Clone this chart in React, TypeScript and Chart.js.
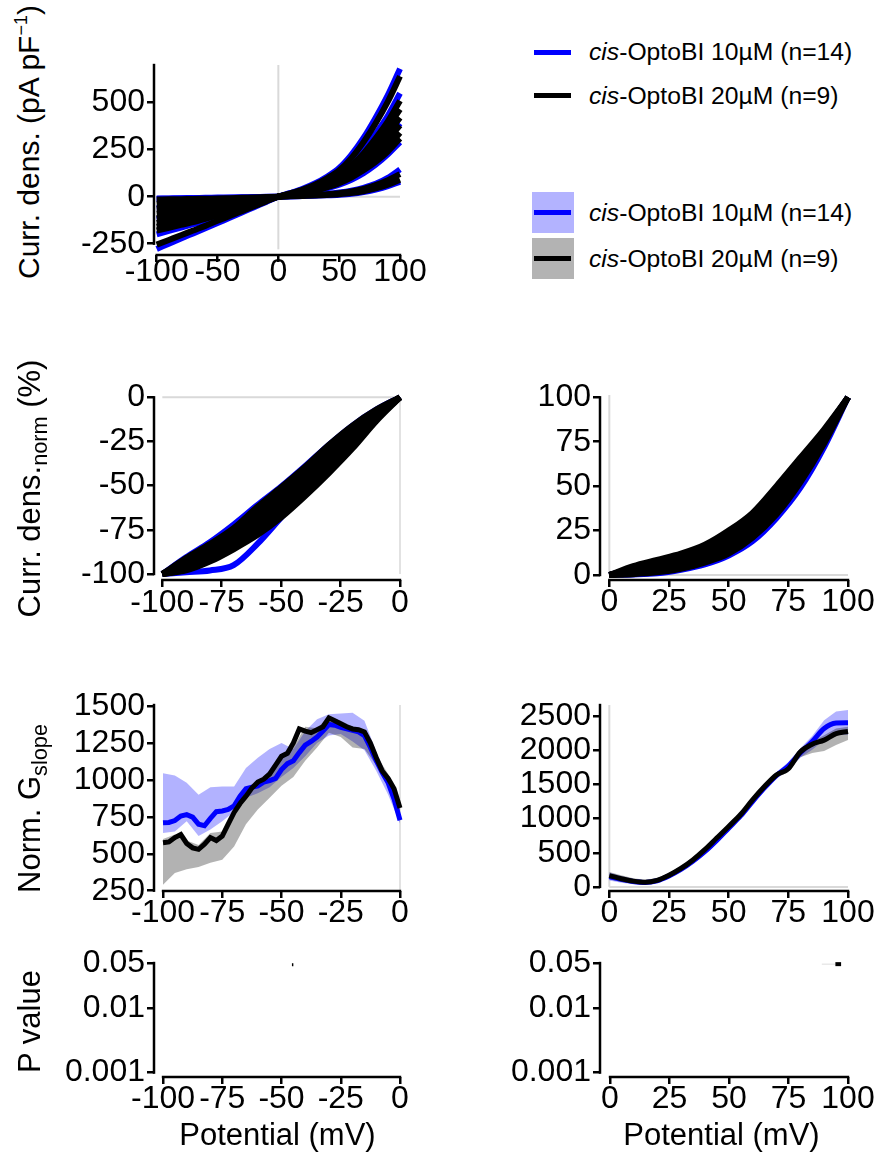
import React, { useEffect, useRef } from 'react';
import { Chart, registerables } from 'chart.js';
Chart.register(...registerables);

const FONT = '"Liberation Sans", Arial, Helvetica, sans-serif';
Chart.defaults.font.family = FONT;

const BLUE = '#0000ff';
const BLACK = '#000000';
const REF_GRAY = '#d9d9d9';
const BLUE_BAND = 'rgba(0,0,255,0.3)';
const GRAY_BAND = 'rgba(0,0,0,0.3)';
const AXIS_WIDTH = 2.5;

// ---------------- Panel A: current density traces ----------------
const IV_POTENTIAL = [-100, -90, -80, -70, -60, -50, -40, -30, -20, -10, 0, 10, 20, 30, 40, 50, 60, 70, 80, 90, 100];
const IV_BLACK_1 = [-255, -230, -205, -180, -155, -128, -103, -77, -51, -25, 0, 18, 38, 64, 98, 140, 205, 290, 390, 505, 640];
const IV_BLACK_2 = [-180, -165, -150, -135, -118, -100, -82, -62, -42, -21, 0, 15, 32, 52, 80, 115, 165, 230, 310, 400, 510];
const IV_BLACK_3 = [-160, -146, -132, -118, -104, -88, -72, -55, -37, -19, 0, 14, 29, 48, 74, 106, 152, 212, 285, 370, 465];
const IV_BLACK_4 = [-140, -128, -116, -104, -92, -80, -66, -51, -35, -18, 0, 12, 26, 44, 68, 98, 140, 195, 260, 335, 420];
const IV_BLACK_5 = [-115, -105, -96, -86, -77, -67, -56, -43, -30, -15, 0, 11, 24, 40, 61, 88, 125, 175, 235, 305, 380];
const IV_BLACK_6 = [-90, -83, -76, -69, -62, -54, -45, -35, -24, -12, 0, 10, 21, 35, 54, 78, 110, 152, 205, 265, 340];
const IV_BLACK_7 = [-65, -60, -55, -50, -45, -40, -34, -27, -19, -10, 0, 9, 19, 32, 50, 72, 102, 140, 185, 240, 310];
const IV_BLACK_8 = [-40, -37, -34, -31, -28, -24, -20, -15, -10, -5, 0, 3, 6, 9, 13, 19, 28, 42, 62, 88, 120];
const IV_BLACK_9 = [-15, -14, -13, -12, -11, -10, -8, -6, -4, -2, 0, 2, 4, 6, 9, 13, 19, 29, 44, 64, 90];
const IV_BLUE_1 = [-278, -250, -222, -195, -168, -140, -112, -84, -56, -28, 0, 20, 42, 70, 106, 152, 222, 312, 420, 540, 680];
const IV_BLUE_2 = [-200, -182, -164, -146, -128, -108, -88, -67, -45, -23, 0, 16, 34, 56, 86, 124, 178, 248, 335, 430, 550];
const IV_BLUE_3 = [-120, -110, -100, -90, -80, -68, -56, -43, -30, -15, 0, 11, 24, 40, 62, 90, 128, 178, 240, 310, 390];
const IV_BLUE_4 = [-60, -55, -50, -45, -40, -35, -29, -23, -16, -8, 0, 8, 17, 28, 44, 64, 90, 125, 170, 225, 290];
const IV_BLUE_5 = [-12, -11, -10, -9, -8, -7, -6, -5, -3, -2, 0, 3, 6, 10, 15, 22, 32, 47, 68, 100, 145];
const IV_BLUE_6 = [-10, -9, -8, -7, -6, -5, -4, -3, -2, -1, 0, 1, 3, 5, 7, 10, 15, 24, 38, 56, 80];
const IV_X_TICKS = [-100, -50, 0, 50, 100];
const IV_Y_TICKS = [-250, 0, 250, 500];

// ---------------- Panel B: normalised, negative potentials ----------------
const NN_POTENTIAL = [-100, -90, -80, -70, -60, -50, -40, -30, -20, -10, 0];
const NN_BLACK_1 = [-100, -91, -83, -74, -62, -51, -39.5, -27, -16, -7, 0];
const NN_BLACK_2 = [-100, -92, -84.5, -76, -64.5, -53.5, -41.5, -29, -17.5, -7.8, 0];
const NN_BLACK_3 = [-100, -93, -86, -78, -67, -56, -44, -31, -19, -8.5, 0];
const NN_BLACK_4 = [-100, -94, -87, -79.5, -69, -58, -46, -33, -20.5, -9.2, 0];
const NN_BLACK_5 = [-100, -95, -88, -81, -71, -60, -48, -35, -22, -10, 0];
const NN_BLACK_6 = [-100, -96, -89, -82, -72.5, -62, -50, -37, -23.5, -10.8, 0];
const NN_BLACK_7 = [-100, -97, -90, -83, -74, -64, -52, -39, -25, -11.5, 0];
const NN_BLACK_8 = [-100, -97.5, -91.5, -84.5, -76, -66, -54, -41, -27, -12.5, 0];
const NN_BLACK_9 = [-100, -98, -93, -86, -78, -68, -56, -43, -29, -13.5, 0];
const NN_BLUE_1 = [-100, -99, -98, -95, -83, -68, -53, -39, -25, -11, 0];
const NN_BLUE_2 = [-100, -90.5, -82, -72, -61, -50.5, -39, -27, -16, -7, 0];
const NN_BLUE_3 = [-100, -94, -87, -79, -69, -58, -46, -33, -21, -9.5, 0];
const NN_TICKS = [-100, -75, -50, -25, 0];

// ---------------- Panel C: normalised, positive potentials ----------------
const NP_POTENTIAL = [0, 10, 20, 30, 40, 50, 60, 70, 80, 90, 100];
const NP_BLACK_1 = [0, 5, 8.5, 12, 17, 25, 35, 50, 66, 82, 100];
const NP_BLACK_2 = [0, 4, 7.2, 10.7, 15.5, 23, 33, 47.5, 64, 81, 100];
const NP_BLACK_3 = [0, 3, 6, 9.5, 14, 21, 31, 45, 62, 80, 100];
const NP_BLACK_4 = [0, 2.5, 5, 8.2, 12.5, 19, 29, 43, 60, 79, 100];
const NP_BLACK_5 = [0, 2, 4, 7, 11, 17, 27, 41, 58, 78, 100];
const NP_BLACK_6 = [0, 1.5, 3.2, 6, 9.8, 15.5, 25, 39, 56.5, 77, 100];
const NP_BLACK_7 = [0, 1, 2.5, 5, 8.5, 14, 23, 37, 55, 76, 100];
const NP_BLACK_8 = [0, 0.5, 1.5, 3.5, 7, 12, 21, 34, 52, 74, 100];
const NP_BLUE_1 = [0, 0.3, 1, 3, 6, 11, 19, 32, 49, 72, 100];
const NP_BLUE_2 = [0, 4, 7.5, 11, 15.5, 22, 32, 46, 63, 81, 100];
const NP_BLUE_3 = [0, 2, 5, 8, 12, 18, 28, 42, 59, 79, 100];
const NP_TICKS = [0, 25, 50, 75, 100];

// ---------------- Panel D: Gslope, negative potentials ----------------
const GN_POTENTIAL = [-100, -97.5, -95, -92.5, -90, -87.5, -85, -82.5, -80, -77.5, -75, -72.5, -70, -67.5, -65, -62.5, -60, -57.5, -55, -52.5, -50, -47.5, -45, -42.5, -40, -37.5, -35, -32.5, -30, -27.5, -25, -22.5, -20, -17.5, -15, -12.5, -10, -7.5, -5, -2.5, 0];
const GN_BLUE_MEAN = [710, 712, 725, 755, 765, 748, 700, 690, 740, 785, 790, 800, 825, 890, 940, 950, 960, 985, 995, 1010, 1070, 1110, 1130, 1185, 1235, 1260, 1290, 1330, 1375, 1370, 1355, 1345, 1335, 1325, 1300, 1220, 1130, 1050, 980, 870, 727];
const GN_BLACK_MEAN = [575, 580, 610, 630, 570, 540, 530, 565, 610, 590, 620, 700, 780, 840, 890, 945, 985, 1005, 1040, 1100, 1160, 1180, 1250, 1345, 1330, 1320, 1340, 1360, 1420, 1400, 1380, 1360, 1345, 1340, 1325, 1250, 1150, 1060, 1010, 940, 810];
const GN_BAND_POTENTIAL = [-100, -95, -90, -85, -80, -75, -70, -65, -60, -55, -50, -45, -40, -35, -30, -25, -20, -15, -10, -5, 0];
const GN_BLUE_UPPER = [1045, 1030, 980, 900, 950, 955, 955, 1080, 1150, 1210, 1250, 1210, 1330, 1410, 1445, 1450, 1455, 1400, 1190, 1010, 750];
const GN_BLUE_LOWER = [640, 650, 720, 620, 665, 720, 785, 880, 910, 950, 1020, 1080, 1160, 1250, 1300, 1310, 1260, 1200, 1060, 900, 705];
const GN_BLACK_UPPER = [600, 630, 590, 560, 640, 650, 760, 880, 960, 1030, 1140, 1220, 1360, 1350, 1430, 1400, 1360, 1340, 1170, 1040, 840];
const GN_BLACK_LOWER = [290, 370, 395, 410, 440, 460, 550, 700, 800, 880, 960, 1020, 1130, 1220, 1320, 1290, 1220, 1210, 1100, 970, 775];
const GN_Y_TICKS = [250, 500, 750, 1000, 1250, 1500];

// ---------------- Panel E: Gslope, positive potentials ----------------
const GP_POTENTIAL = [0, 5, 10, 15, 20, 25, 30, 35, 40, 45, 50, 55, 60, 65, 70, 75, 80, 85, 90, 95, 100];
const GP_BLUE_MEAN = [150, 110, 80, 65, 90, 160, 255, 375, 515, 680, 860, 1040, 1250, 1450, 1630, 1770, 1960, 2130, 2320, 2400, 2405];
const GP_BLACK_MEAN = [165, 120, 85, 68, 95, 170, 270, 395, 545, 715, 885, 1060, 1275, 1470, 1640, 1730, 1975, 2090, 2150, 2245, 2275];
const GP_BLUE_UPPER = [210, 160, 120, 100, 120, 190, 290, 410, 555, 725, 900, 1080, 1290, 1490, 1680, 1830, 2030, 2210, 2440, 2570, 2590];
const GP_BLUE_LOWER = [95, 60, 40, 30, 60, 130, 220, 340, 475, 640, 820, 1000, 1210, 1410, 1590, 1720, 1890, 2010, 2150, 2230, 2230];
const GP_BLACK_UPPER = [220, 170, 125, 105, 130, 205, 305, 430, 580, 750, 920, 1100, 1310, 1500, 1680, 1780, 2030, 2130, 2220, 2320, 2345];
const GP_BLACK_LOWER = [110, 70, 45, 35, 60, 135, 235, 360, 510, 680, 850, 1020, 1240, 1440, 1600, 1680, 1900, 1960, 1990, 2080, 2150];
const GP_Y_TICKS = [0, 500, 1000, 1500, 2000, 2500];

// ---------------- Panels F/G: P values ----------------
const P_TICKS = [0.001, 0.01, 0.05];
const PN_SIG_POTENTIAL = [-45.6, -45.0];
const PN_SIG_P = [0.047, 0.047];
const PP_NS_POTENTIAL = [89, 94.7];
const PP_NS_P = [0.048, 0.048];
const PP_SIG_POTENTIAL = [94.7, 97.1];
const PP_SIG_P = [0.048, 0.048];

// ---------------- helpers ----------------
const pts = (xs: number[], ys: number[]) => xs.map((x, i) => ({ x, y: ys[i] }));

const lineDs = (xs: number[], ys: number[], color: string, width: number, smooth = false) => ({
  data: pts(xs, ys),
  borderColor: color,
  borderWidth: width,
  pointRadius: 0,
  fill: false,
  tension: 0,
  cubicInterpolationMode: smooth ? 'monotone' : 'default',
  clip: false,
});

const bandDs = (xs: number[], lo: number[], hi: number[], color: string) => [
  { data: pts(xs, lo), borderColor: 'rgba(0,0,0,0)', borderWidth: 0, pointRadius: 0, fill: false, clip: false },
  { data: pts(xs, hi), borderColor: 'rgba(0,0,0,0)', borderWidth: 0, pointRadius: 0, fill: '-1', backgroundColor: color, clip: false },
];

const makeAxesPlugin = (xLine: number[], yLine: number[]) => ({
  id: 'rAxes',
  afterDatasetsDraw(chart: any) {
    const { ctx, chartArea, scales } = chart;
    ctx.save();
    ctx.strokeStyle = BLACK;
    ctx.lineWidth = AXIS_WIDTH;
    ctx.lineCap = 'butt';
    const a = scales.x.getPixelForValue(xLine[0]);
    const b = scales.x.getPixelForValue(xLine[1]);
    ctx.beginPath();
    ctx.moveTo(a - 1.2, chartArea.bottom);
    ctx.lineTo(b + 1.2, chartArea.bottom);
    ctx.stroke();
    const c = scales.y.getPixelForValue(yLine[0]);
    const d = scales.y.getPixelForValue(yLine[1]);
    ctx.beginPath();
    ctx.moveTo(chartArea.left, c + 1.2);
    ctx.lineTo(chartArea.left, d - 1.2);
    ctx.stroke();
    ctx.restore();
  },
});

type Spec = {
  id: string;
  box: number[];
  area: number[];
  x: { min: number; max: number; ticks: number[]; pad: number };
  y: { min: number; max: number; ticks: number[]; log?: boolean };
  xLine: number[];
  yLine: number[];
  datasets: () => any[];
};

const PANELS: Spec[] = [
  {
    id: 'iv',
    box: [50, 40, 390, 270],
    area: [154, 65, 400, 255],
    x: { min: -102.2, max: 100, ticks: IV_X_TICKS, pad: -6 },
    y: { min: -310, max: 700, ticks: IV_Y_TICKS },
    xLine: [-100, 100],
    yLine: [-250, 700],
    datasets: () => [
      lineDs([0, 0], [-280, 700], REF_GRAY, 2),
      lineDs([-100, 100], [0, 0], REF_GRAY, 2),
      ...[IV_BLUE_1, IV_BLUE_2, IV_BLUE_3, IV_BLUE_4, IV_BLUE_5, IV_BLUE_6].map((t) => lineDs(IV_POTENTIAL, t, BLUE, 6, true)),
      ...[IV_BLACK_1, IV_BLACK_2, IV_BLACK_3, IV_BLACK_4, IV_BLACK_5, IV_BLACK_6, IV_BLACK_7, IV_BLACK_8, IV_BLACK_9].map((t) =>
        lineDs(IV_POTENTIAL, t, BLACK, 6, true)
      ),
    ],
  },
  {
    id: 'nn',
    box: [50, 370, 390, 270],
    area: [154, 395, 400, 580],
    x: { min: -103.5, max: 0, ticks: NN_TICKS, pad: 0 },
    y: { min: -103.4, max: 1.3, ticks: NN_TICKS },
    xLine: [-100, 0],
    yLine: [-100, 0],
    datasets: () => [
      lineDs([-100, 0], [0, 0], REF_GRAY, 2),
      lineDs([0, 0], [-100, 0], REF_GRAY, 1.5),
      ...[NN_BLUE_1, NN_BLUE_2, NN_BLUE_3].map((t) => lineDs(NN_POTENTIAL, t, BLUE, 6, true)),
      ...[NN_BLACK_1, NN_BLACK_2, NN_BLACK_3, NN_BLACK_4, NN_BLACK_5, NN_BLACK_6, NN_BLACK_7, NN_BLACK_8, NN_BLACK_9].map((t) =>
        lineDs(NN_POTENTIAL, t, BLACK, 6, true)
      ),
    ],
  },
  {
    id: 'np',
    box: [505, 370, 373, 270],
    area: [600, 395, 848, 580],
    x: { min: -3.9, max: 100, ticks: NP_TICKS, pad: -1 },
    y: { min: -2.8, max: 101.3, ticks: NP_TICKS },
    xLine: [0, 100],
    yLine: [0, 100],
    datasets: () => [
      lineDs([0, 0], [0, 101.3], REF_GRAY, 2),
      lineDs([0, 100], [0, 0], REF_GRAY, 2),
      ...[NP_BLUE_1, NP_BLUE_2, NP_BLUE_3].map((t) => lineDs(NP_POTENTIAL, t, BLUE, 6, true)),
      ...[NP_BLACK_1, NP_BLACK_2, NP_BLACK_3, NP_BLACK_4, NP_BLACK_5, NP_BLACK_6, NP_BLACK_7, NP_BLACK_8].map((t) =>
        lineDs(NP_POTENTIAL, t, BLACK, 6, true)
      ),
    ],
  },
  {
    id: 'gn',
    box: [50, 680, 390, 270],
    area: [154, 705, 400, 891],
    x: { min: -103.8, max: 0, ticks: NN_TICKS, pad: -1 },
    y: { min: 248, max: 1507, ticks: GN_Y_TICKS },
    xLine: [-100, 0],
    yLine: [250, 1507],
    datasets: () => [
      lineDs([0, 0], [248, 1507], REF_GRAY, 1.5),
      ...bandDs(GN_BAND_POTENTIAL, GN_BLUE_LOWER, GN_BLUE_UPPER, BLUE_BAND),
      ...bandDs(GN_BAND_POTENTIAL, GN_BLACK_LOWER, GN_BLACK_UPPER, GRAY_BAND),
      lineDs(GN_POTENTIAL, GN_BLUE_MEAN, BLUE, 5),
      lineDs(GN_POTENTIAL, GN_BLACK_MEAN, BLACK, 5),
    ],
  },
  {
    id: 'gp',
    box: [505, 680, 373, 270],
    area: [600, 705, 848, 891],
    x: { min: -3.9, max: 100, ticks: NP_TICKS, pad: -1 },
    y: { min: -60, max: 2664, ticks: GP_Y_TICKS },
    xLine: [0, 100],
    yLine: [0, 2664],
    datasets: () => [
      lineDs([0, 0], [0, 2664], REF_GRAY, 2),
      lineDs([0, 100], [0, 0], REF_GRAY, 2),
      ...bandDs(GP_POTENTIAL, GP_BLUE_LOWER, GP_BLUE_UPPER, BLUE_BAND),
      ...bandDs(GP_POTENTIAL, GP_BLACK_LOWER, GP_BLACK_UPPER, GRAY_BAND),
      lineDs(GP_POTENTIAL, GP_BLUE_MEAN, BLUE, 5, true),
      lineDs(GP_POTENTIAL, GP_BLACK_MEAN, BLACK, 5, true),
    ],
  },
  {
    id: 'pn',
    box: [50, 950, 390, 170],
    area: [154, 963, 400, 1077],
    x: { min: -103.8, max: 0, ticks: NN_TICKS, pad: -1 },
    y: { min: 0.000855, max: 0.05, ticks: P_TICKS, log: true },
    xLine: [-100, 0],
    yLine: [0.001, 0.05],
    datasets: () => [lineDs(PN_SIG_POTENTIAL, PN_SIG_P, BLACK, 3)],
  },
  {
    id: 'pp',
    box: [500, 950, 378, 170],
    area: [600, 963, 848, 1077],
    x: { min: -4.2, max: 100, ticks: NP_TICKS, pad: -1 },
    y: { min: 0.000855, max: 0.05, ticks: P_TICKS, log: true },
    xLine: [0, 100],
    yLine: [0.001, 0.05],
    datasets: () => [lineDs(PP_NS_POTENTIAL, PP_NS_P, '#dddddd', 1), lineDs(PP_SIG_POTENTIAL, PP_SIG_P, BLACK, 4)],
  },
];

function buildConfig(spec: Spec): any {
  const [cx, cy, cw, ch] = spec.box;
  const [L, T, R, B] = spec.area;
  const raw = spec.datasets();
  const n = raw.length;
  raw.forEach((d: any, i: number) => {
    d.order = n - i;
  });
  const tickFont = { size: 32, lineHeight: 1, family: FONT };
  const grid = {
    drawOnChartArea: false,
    drawTicks: true,
    tickLength: 7,
    tickWidth: AXIS_WIDTH,
    tickColor: BLACK,
    color: BLACK,
    lineWidth: AXIS_WIDTH,
  };
  const zeroPad = (s: any) => {
    s.paddingLeft = 0;
    s.paddingRight = 0;
    s.paddingTop = 0;
    s.paddingBottom = 0;
  };
  return {
    type: 'line',
    data: { datasets: raw },
    plugins: [makeAxesPlugin(spec.xLine, spec.yLine)],
    options: {
      animation: false,
      responsive: false,
      maintainAspectRatio: false,
      events: [],
      layout: { autoPadding: false, padding: { left: 0, top: T - cy, right: cx + cw - R, bottom: 0 } },
      plugins: { legend: { display: false }, tooltip: { enabled: false }, title: { display: false } },
      scales: {
        x: {
          type: 'linear',
          position: 'bottom',
          bounds: 'data',
          min: spec.x.min,
          max: spec.x.max,
          afterBuildTicks: (s: any) => {
            s.ticks = spec.x.ticks.map((v) => ({ value: v }));
          },
          afterFit: (s: any) => {
            s.height = cy + ch - B;
            zeroPad(s);
          },
          ticks: {
            font: tickFont,
            color: BLACK,
            padding: spec.x.pad,
            autoSkip: false,
            maxRotation: 0,
            minRotation: 0,
            includeBounds: false,
            callback: (v: any) => String(v),
          },
          grid,
          border: { display: false },
        },
        y: {
          type: spec.y.log ? 'logarithmic' : 'linear',
          position: 'left',
          bounds: 'data',
          min: spec.y.min,
          max: spec.y.max,
          afterBuildTicks: (s: any) => {
            s.ticks = spec.y.ticks.map((v) => ({ value: v }));
          },
          afterFit: (s: any) => {
            s.width = L - cx;
            zeroPad(s);
          },
          ticks: {
            font: tickFont,
            color: BLACK,
            padding: 2,
            autoSkip: false,
            includeBounds: false,
            callback: (v: any) => String(v),
          },
          grid,
          border: { display: false },
        },
      },
    },
  };
}

function ChartPanel({ spec }: { spec: Spec }) {
  const ref = useRef<HTMLCanvasElement>(null);
  useEffect(() => {
    const chart = new Chart(ref.current as HTMLCanvasElement, buildConfig(spec));
    return () => chart.destroy();
  }, [spec]);
  const [cx, cy, cw, ch] = spec.box;
  return (
    <canvas
      ref={ref}
      width={cw}
      height={ch}
      style={{ position: 'absolute', left: cx, top: cy, width: cw, height: ch }}
    />
  );
}

function YTitle({ cy, w, size, children }: { cy: number; w: number; size: number; children: React.ReactNode }) {
  // place the cap-top of the rotated text at x = 18
  const capTop = 18;
  const capFromTop = size * (0.8465 - 0.716);
  const left = capTop - capFromTop;
  const cx = left + size / 2;
  return (
    <div
      style={{
        position: 'absolute',
        left: cx - w / 2,
        top: cy - size / 2,
        width: w,
        height: size,
        lineHeight: size + 'px',
        fontSize: size,
        textAlign: 'center',
        whiteSpace: 'nowrap',
        transform: 'rotate(-90deg)',
        color: BLACK,
      }}
    >
      {children}
    </div>
  );
}

function XTitle({ cx, text }: { cx: number; text: string }) {
  const size = 31;
  return (
    <div
      style={{
        position: 'absolute',
        left: cx - 150,
        top: 1118.8,
        width: 300,
        height: size,
        lineHeight: size + 'px',
        fontSize: size,
        textAlign: 'center',
        whiteSpace: 'nowrap',
        color: BLACK,
      }}
    >
      {text}
    </div>
  );
}

const sub = { fontSize: '0.7em', position: 'relative' as const, top: '0.3em' };
const sup = { fontSize: '0.6em', position: 'relative' as const, top: '-0.65em' };

const GROUP_LABELS = ['-OptoBI 10µM (n=14)', '-OptoBI 20µM (n=9)'];
const GROUP_COLORS = [BLUE, BLACK];
const GROUP_BANDS = ['#b3b3ff', '#b3b3b3'];

function LegendText({ yc, label }: { yc: number; label: string }) {
  return (
    <div
      style={{
        position: 'absolute',
        left: 589,
        top: yc - 15,
        height: 30,
        lineHeight: '30px',
        fontSize: 24.7,
        whiteSpace: 'nowrap',
        color: BLACK,
      }}
    >
      <i>cis</i>
      {label}
    </div>
  );
}

export default function App() {
  const lineYs = [52.3, 95.7];
  const bandYs = [212.6, 258.8];
  const bandTops = [192, 238];
  return (
    <div
      style={{
        position: 'absolute',
        left: 0,
        top: 0,
        width: 878,
        height: 1153,
        background: '#ffffff',
        fontFamily: FONT,
        overflow: 'hidden',
      }}
    >
      {PANELS.map((p) => (
        <ChartPanel key={p.id} spec={p} />
      ))}

      <YTitle cy={142} w={320} size={30}>
        Curr. dens. (pA pF<span style={sup}>−1</span>)
      </YTitle>
      <YTitle cy={488} w={320} size={31}>
        Curr. dens.<span style={sub}>norm</span> (%)
      </YTitle>
      <YTitle cy={808} w={240} size={31}>
        Norm. G<span style={sub}>slope</span>
      </YTitle>
      <YTitle cy={1021.5} w={160} size={31}>
        P value
      </YTitle>

      <XTitle cx={277.5} text="Potential (mV)" />
      <XTitle cx={721.5} text="Potential (mV)" />

      {GROUP_LABELS.map((lab, i) => (
        <React.Fragment key={'l' + i}>
          <div
            style={{ position: 'absolute', left: 534, top: lineYs[i] - 2.5, width: 37, height: 5, background: GROUP_COLORS[i] }}
          />
          <LegendText yc={lineYs[i]} label={lab} />
        </React.Fragment>
      ))}

      {GROUP_LABELS.map((lab, i) => (
        <React.Fragment key={'b' + i}>
          <div style={{ position: 'absolute', left: 532, top: bandTops[i], width: 42, height: 41, background: GROUP_BANDS[i] }} />
          <div
            style={{ position: 'absolute', left: 534, top: bandYs[i] - 2.5, width: 37, height: 5, background: GROUP_COLORS[i] }}
          />
          <LegendText yc={bandYs[i]} label={lab} />
        </React.Fragment>
      ))}
    </div>
  );
}
